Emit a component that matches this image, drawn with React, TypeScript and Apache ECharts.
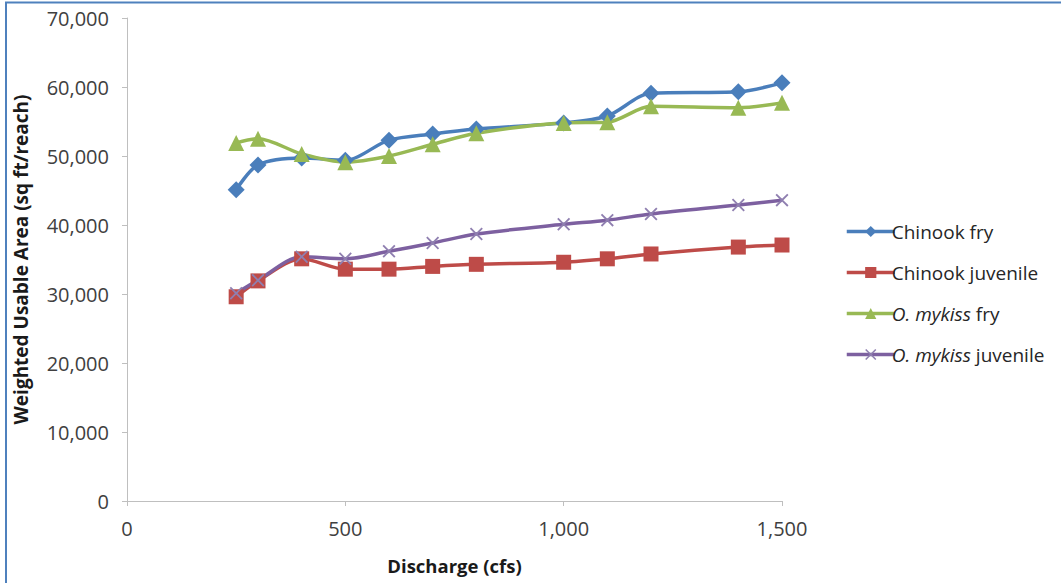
import React, { useEffect, useRef } from "react";
import * as echarts from "echarts";

const discharge = [250, 300, 400, 500, 600, 700, 800, 1000, 1100, 1200, 1400, 1500];
const chinookFry = [45100, 48700, 49700, 49400, 52300, 53200, 53900, 54800, 55800, 59100, 59300, 60600];
const chinookJuvenile = [29600, 31900, 35100, 33600, 33600, 34000, 34300, 34600, 35100, 35800, 36800, 37100];
const mykissFry = [51900, 52500, 50300, 49100, 50000, 51700, 53300, 54800, 54900, 57200, 57000, 57700];
const mykissJuvenile = [30100, 32000, 35400, 35100, 36200, 37400, 38700, 40100, 40700, 41600, 42900, 43600];
const seriesNames = ["Chinook fry", "Chinook juvenile", "O. mykiss fry", "O. mykiss juvenile"];

const crossPath =
  "path://M0,1 L1,0 L5,4 L9,0 L10,1 L6,5 L10,9 L9,10 L5,6 L1,10 L0,9 L4,5 Z";

const pair = (ys: number[]) => discharge.map((x, i) => [x, ys[i]]);

export default function App() {
  const ref = useRef<HTMLDivElement>(null);
  useEffect(() => {
    if (!ref.current) return;
    const chart = echarts.init(ref.current, undefined, { renderer: "svg" });
    const font = "'Open Sans', 'Liberation Sans', sans-serif";
    const mk = (name: string, data: number[], color: string, symbol: string, size: number, symColor?: string) => ({
      name,
      type: "line",
      data: pair(data),
      smooth: 0.3,
      symbol,
      symbolSize: size,
      lineStyle: { color, width: 3.5 },
      itemStyle: { color: symColor || color },
      emphasis: { disabled: true },
    });
    chart.setOption({
      animation: false,
      textStyle: { fontFamily: font },
      grid: { left: 127, right: 279, top: 18, bottom: 82, containLabel: false },
      xAxis: {
        type: "value",
        min: 0,
        max: 1500,
        interval: 500,
        name: "Discharge (cfs)",
        nameLocation: "middle",
        nameGap: 55,
        nameTextStyle: { fontSize: 18.5, fontWeight: "bold", color: "#1a1a1a", fontFamily: font },
        axisLine: { show: true, lineStyle: { color: "#bfbfbf", width: 1 } },
        axisTick: { show: true, length: 5, lineStyle: { color: "#bfbfbf" } },
        splitLine: { show: false },
        axisLabel: {
          fontSize: 20,
          color: "#404040",
          margin: 17,
          fontFamily: font,
          formatter: (v: number) => v.toLocaleString("en-US"),
        },
      },
      yAxis: {
        type: "value",
        min: 0,
        max: 70000,
        interval: 10000,
        name: "Weighted Usable Area (sq ft/reach)",
        nameLocation: "middle",
        nameGap: 97,
        nameTextStyle: { fontSize: 19, fontWeight: "bold", color: "#1a1a1a", fontFamily: font },
        axisLine: { show: true, lineStyle: { color: "#bfbfbf", width: 1 } },
        axisTick: { show: true, length: 5, lineStyle: { color: "#bfbfbf" } },
        splitLine: { show: false },
        axisLabel: {
          fontSize: 20,
          color: "#404040",
          margin: 18,
          fontFamily: font,
          formatter: (v: number) => v.toLocaleString("en-US"),
        },
      },
      legend: {
        orient: "vertical",
        left: 840,
        top: 217,
        itemGap: 22,
        itemWidth: 48,
        itemHeight: 14,
        data: seriesNames,
        lineStyle: { width: 3.5 },
        textStyle: {
          fontSize: 19,
          color: "#262626",
          fontFamily: font,
          padding: [0, 0, 0, -8],
          rich: {
            i: { fontStyle: "italic", fontSize: 19, color: "#262626", fontFamily: font },
            n: { fontSize: 19, color: "#262626", fontFamily: font },
          },
        },
        formatter: (name: string) =>
          name.startsWith("O. mykiss")
            ? "{i|O. mykiss}{n|" + name.slice(9) + "}"
            : "{n|" + name + "}",
      },
      graphic: [
        { type: "line", shape: { x1: 5, y1: 2.5, x2: 1061, y2: 2.5 }, style: { stroke: "#4f81bd", lineWidth: 2 } },
        { type: "line", shape: { x1: 6, y1: 2, x2: 6, y2: 583 }, style: { stroke: "#4f81bd", lineWidth: 2 } },
      ],
      series: [
        mk(seriesNames[0], chinookFry, "#4a7ebb", "diamond", 17),
        mk(seriesNames[1], chinookJuvenile, "#be4b48", "rect", 15),
        mk(seriesNames[2], mykissFry, "#98b954", "triangle", 16),
        mk(seriesNames[3], mykissJuvenile, "#7d60a0", crossPath, 13, "#8f7fb0"),
      ],
    });
    return () => chart.dispose();
  }, []);
  return (
    <div
      ref={ref}
      style={{ position: "fixed", left: 0, top: 0, width: 1061, height: 583, background: "#fff" }}
    />
  );
}
